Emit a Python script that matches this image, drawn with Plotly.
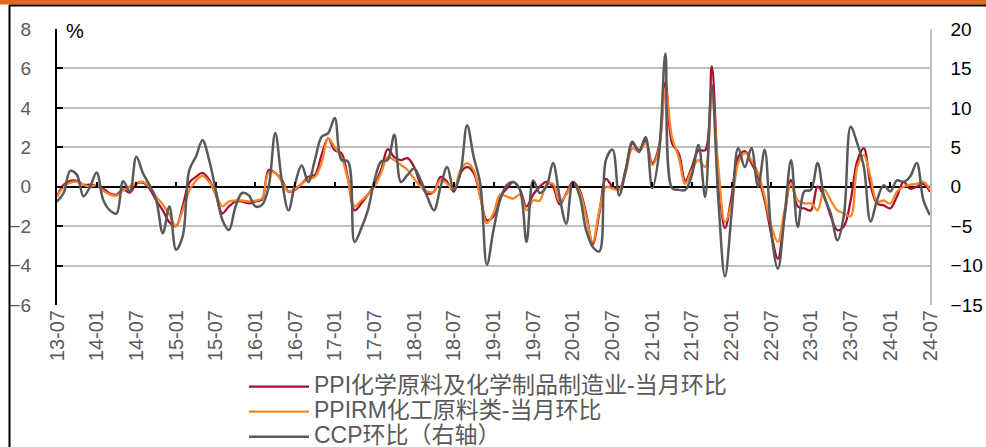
import pandas as pd
import plotly.graph_objects as go

# ---- data (monthly, 2013-07 .. 2024-07) ----
months = list(pd.date_range("2013-07-01", "2024-07-01", freq="MS").strftime("%y-%m"))
tick_months = months[::6]

ppi_chem = [-0.5, 0.1, 0.3, 0.3, 0.1, 0.1, 0.05, -0.1, -0.35, -0.4, -0.15, -0.3, 0.15, 0.2, -0.1, -0.7, -1.2, -1.8, -2.0, -1.0,
            0.2, 0.5, 0.7, 0.35, -0.4, -1.35, -1.0, -0.75, -0.75, -0.85, -0.75, -0.65, 0.85, 0.7, 0.35, -0.25, -0.15, 0.15, 0.5, 0.6,
            1.6, 2.45, 1.85, 1.7, 0.4, -1.2, -0.85, -0.4, 0.1, 0.85, 1.9, 1.5, 1.35, 1.45, 1.0, 0.1, -0.35, -0.25, 0.5, 0.25,
            -0.25, 0.7, 1.0, 0.7, -0.5, -1.7, -1.5, -0.5, -0.1, 0.25, -0.15, -1.0, -0.4, 0.0, 0.25, 0.0, -0.9, -0.35, 0.25, -0.15,
            -1.35, -2.9, -1.35, 0.4, 0.0, -0.15, 0.9, 2.2, 1.85, 2.35, 1.2, 2.0, 5.3, 2.2, 1.7, 0.3, 1.0, 1.85, 1.85, 6.1,
            0.5, -2.1, -0.5, 1.5, 1.8, 1.2, 0.5, -0.7, -2.4, -3.65, -1.5, 0.35, -1.0, -1.1, -1.2, 0.0, -0.5, -1.5, -2.2, -2.0,
            -0.7, 1.3, 1.95, 0.1, -0.85, -0.95, -1.1, -0.5, 0.25, -0.1, 0.0, 0.15, -0.25]

ppirm_chem = [-0.5, 0.0, 0.2, 0.25, 0.1, 0.0, 0.1, -0.2, -0.4, -0.45, -0.2, 0.0, 0.2, 0.25, 0.0, -0.5, -0.9, -1.4, -2.0, -1.2,
              -0.2, 0.3, 0.55, 0.25, -0.35, -1.0, -0.75, -0.7, -0.7, -0.75, -0.7, -0.6, 0.7, 0.7, 0.25, -0.25, -0.1, 0.15, 0.4, 0.5,
              1.2, 2.45, 2.0, 1.5, 0.35, -1.0, -0.7, -0.4, 0.0, 0.7, 1.5, 1.35, 1.1, 0.85, 0.4, 0.0, -0.25, -0.25, 0.35, 0.15,
              -0.15, 0.85, 1.2, 0.85, -0.5, -1.85, -1.35, -0.4, -0.5, -0.6, -0.4, -1.2, -0.7, -0.7, 0.1, 0.15, -0.75, -0.4, 0.15, -0.25,
              -1.5, -2.8, -1.2, 0.0, -0.1, -0.15, 0.7, 1.95, 1.8, 2.2, 1.1, 1.85, 5.0, 2.5, 1.5, 0.15, 0.85, 1.35, 1.0, 4.65,
              1.0, -1.8, -0.85, 1.2, 1.7, 1.35, 0.7, -0.5, -2.0, -2.8, -1.2, 0.15, -0.7, -0.85, -0.85, -1.2, -0.15, -0.7, -1.2, -1.35,
              -1.5, 1.0, 1.6, 0.5, -0.75, -0.7, -0.85, -0.25, 0.0, 0.1, 0.15, 0.25, -0.15]

ccp_mom = [-1.9, -0.8, 2.0, 1.5, -1.2, 0.0, 1.8, -1.7, -3.0, -3.4, 0.7, -0.6, 3.8, 1.7, 0.2, -1.7, -5.9, -2.5, -8.0, -6.3,
           2.1, 3.8, 5.9, 3.4, -0.4, -4.2, -5.5, -2.5, -0.8, -1.1, -2.5, -2.3, 0.0, 6.8, 0.8, -3.0, 0.4, 2.7, 0.6, 3.4,
           6.3, 6.8, 8.7, 3.4, 3.2, -7.0, -5.3, -3.0, 0.8, 3.2, 3.4, 6.6, 0.6, 1.5, 2.3, 0.8, -1.3, -3.0, 0.0, 2.5,
           -0.4, 1.7, 7.8, 3.8, 0.4, -9.9, -5.5, -1.7, 0.2, 0.6, -0.4, -7.0, 0.8, -0.8, 0.0, 3.0, -1.3, -4.7, 0.6, -1.1,
           -5.5, -7.6, -8.2, 3.4, 4.7, -1.1, 2.1, 5.7, 4.4, 6.3, -0.2, 4.0, 16.9, -0.2, -0.4, -0.4, 1.5, 5.3, -1.3, 12.9,
           -1.7, -11.4, -3.4, 4.9, 2.5, 4.9, 0.0, 4.7, -5.9, -10.4, -3.8, 3.4, -5.1, -0.6, -0.4, 3.0, -1.3, -3.4, -6.8, -3.5,
           7.6, 5.5, 2.5, -4.4, -1.7, 0.2, -0.6, 0.8, 0.6, 1.3, 3.0, -1.7, -3.6]

names = ["PPI化学原料及化学制品制造业-当月环比", "PPIRM化工原料类-当月环比", "CCP环比（右轴）"]
left_ticks = [-6, -4, -2, 0, 2, 4, 6, 8]
right_ticks = [-15, -10, -5, 0, 5, 10, 15, 20]

FONT = "Liberation Sans, Arial, Noto Sans CJK SC, sans-serif"
W, H = 986, 447
L, R, T, B = 57, 56, 29, 142
pw, ph = W - L - R, H - T - B


def px_x(p):
    return (p - L) / pw


def px_y(p):
    return (H - B - p) / ph


def legend_label(s):
    return '<span style="font-size:23px">' + s + '</span>'


fig = go.Figure()
fig.add_trace(go.Scatter(x=months, y=ppi_chem, name=legend_label(names[0]), mode="lines",
                         line=dict(color="#A8102E", width=2.3, shape="spline", smoothing=1.0),
                         xaxis="x", yaxis="y"))
fig.add_trace(go.Scatter(x=months, y=ppirm_chem, name=legend_label(names[1]), mode="lines",
                         line=dict(color="#F5862A", width=2.3, shape="spline", smoothing=1.0),
                         xaxis="x", yaxis="y"))
fig.add_trace(go.Scatter(x=months, y=ccp_mom, name=legend_label(names[2]), mode="lines",
                         line=dict(color="#595959", width=2.5, shape="spline", smoothing=1.0),
                         xaxis="x2", yaxis="y2"))

fig.update_layout(
    width=W, height=H,
    margin=dict(l=L, r=R, t=T, b=B, autoexpand=False),
    paper_bgcolor="white", plot_bgcolor="white",
    font=dict(family=FONT, color="#595959"),
    showlegend=True,
    legend=dict(x=px_x(244), y=px_y(369), xanchor="left", yanchor="top",
                bgcolor="rgba(0,0,0,0)", font=dict(size=17, color="#595959", family=FONT),
                itemwidth=60, tracegroupgap=0),
    xaxis=dict(type="category", categoryorder="array", categoryarray=months,
               range=[0, len(months) - 1], tickmode="array", tickvals=tick_months, ticktext=tick_months,
               tickangle=-90, tickfont=dict(size=20, color="#595959"),
               showgrid=False, zeroline=False, showline=False, ticks="", anchor="y"),
    xaxis2=dict(type="category", categoryorder="array", categoryarray=months,
                range=[0, len(months) - 1], tickmode="array", tickvals=tick_months,
                showticklabels=False, ticks="inside", ticklen=5, tickwidth=1.5, tickcolor="black",
                showgrid=False, zeroline=False, showline=False,
                overlaying="x", anchor="free", position=6 / 14, side="bottom"),
    yaxis=dict(range=[-6, 8], tickmode="array", tickvals=left_ticks,
               showgrid=True, gridcolor="#BFBFBF", gridwidth=1.5,
               zeroline=True, zerolinecolor="black", zerolinewidth=2,
               showline=True, linecolor="black", linewidth=2,
               ticks="inside", ticklen=6, tickwidth=1.5, tickcolor="black",
               tickfont=dict(size=19, color="#595959"), ticklabelstandoff=20),
    yaxis2=dict(range=[-15, 20], tickmode="array", tickvals=right_ticks,
                overlaying="y", side="right", anchor="x2",
                showgrid=False, zeroline=False, showline=True, linecolor="#BFBFBF", linewidth=1.5,
                ticks="", tickfont=dict(size=19, color="black"), ticklabelstandoff=15),
    annotations=[dict(text="%", x=px_x(64), y=px_y(31), xref="paper", yref="paper",
                      xanchor="left", yanchor="middle", showarrow=False,
                      font=dict(size=20, color="black", family=FONT))],
    shapes=[
        dict(type="rect", xref="paper", yref="paper", x0=px_x(0), x1=px_x(W), y0=px_y(4.5), y1=px_y(0),
             fillcolor="#E2691E", line=dict(width=0), layer="above"),
        dict(type="line", xref="paper", yref="paper", x0=px_x(9), x1=px_x(W), y0=px_y(5.5), y1=px_y(5.5),
             line=dict(color="black", width=2), layer="above"),
        dict(type="line", xref="paper", yref="paper", x0=px_x(9.5), x1=px_x(9.5), y0=px_y(5), y1=px_y(H),
             line=dict(color="black", width=2), layer="above"),
    ],
)

fig.write_html("out.html", config={"displayModeBar": False},
               post_script="document.body.style.margin='0';document.body.style.overflow='hidden';")
